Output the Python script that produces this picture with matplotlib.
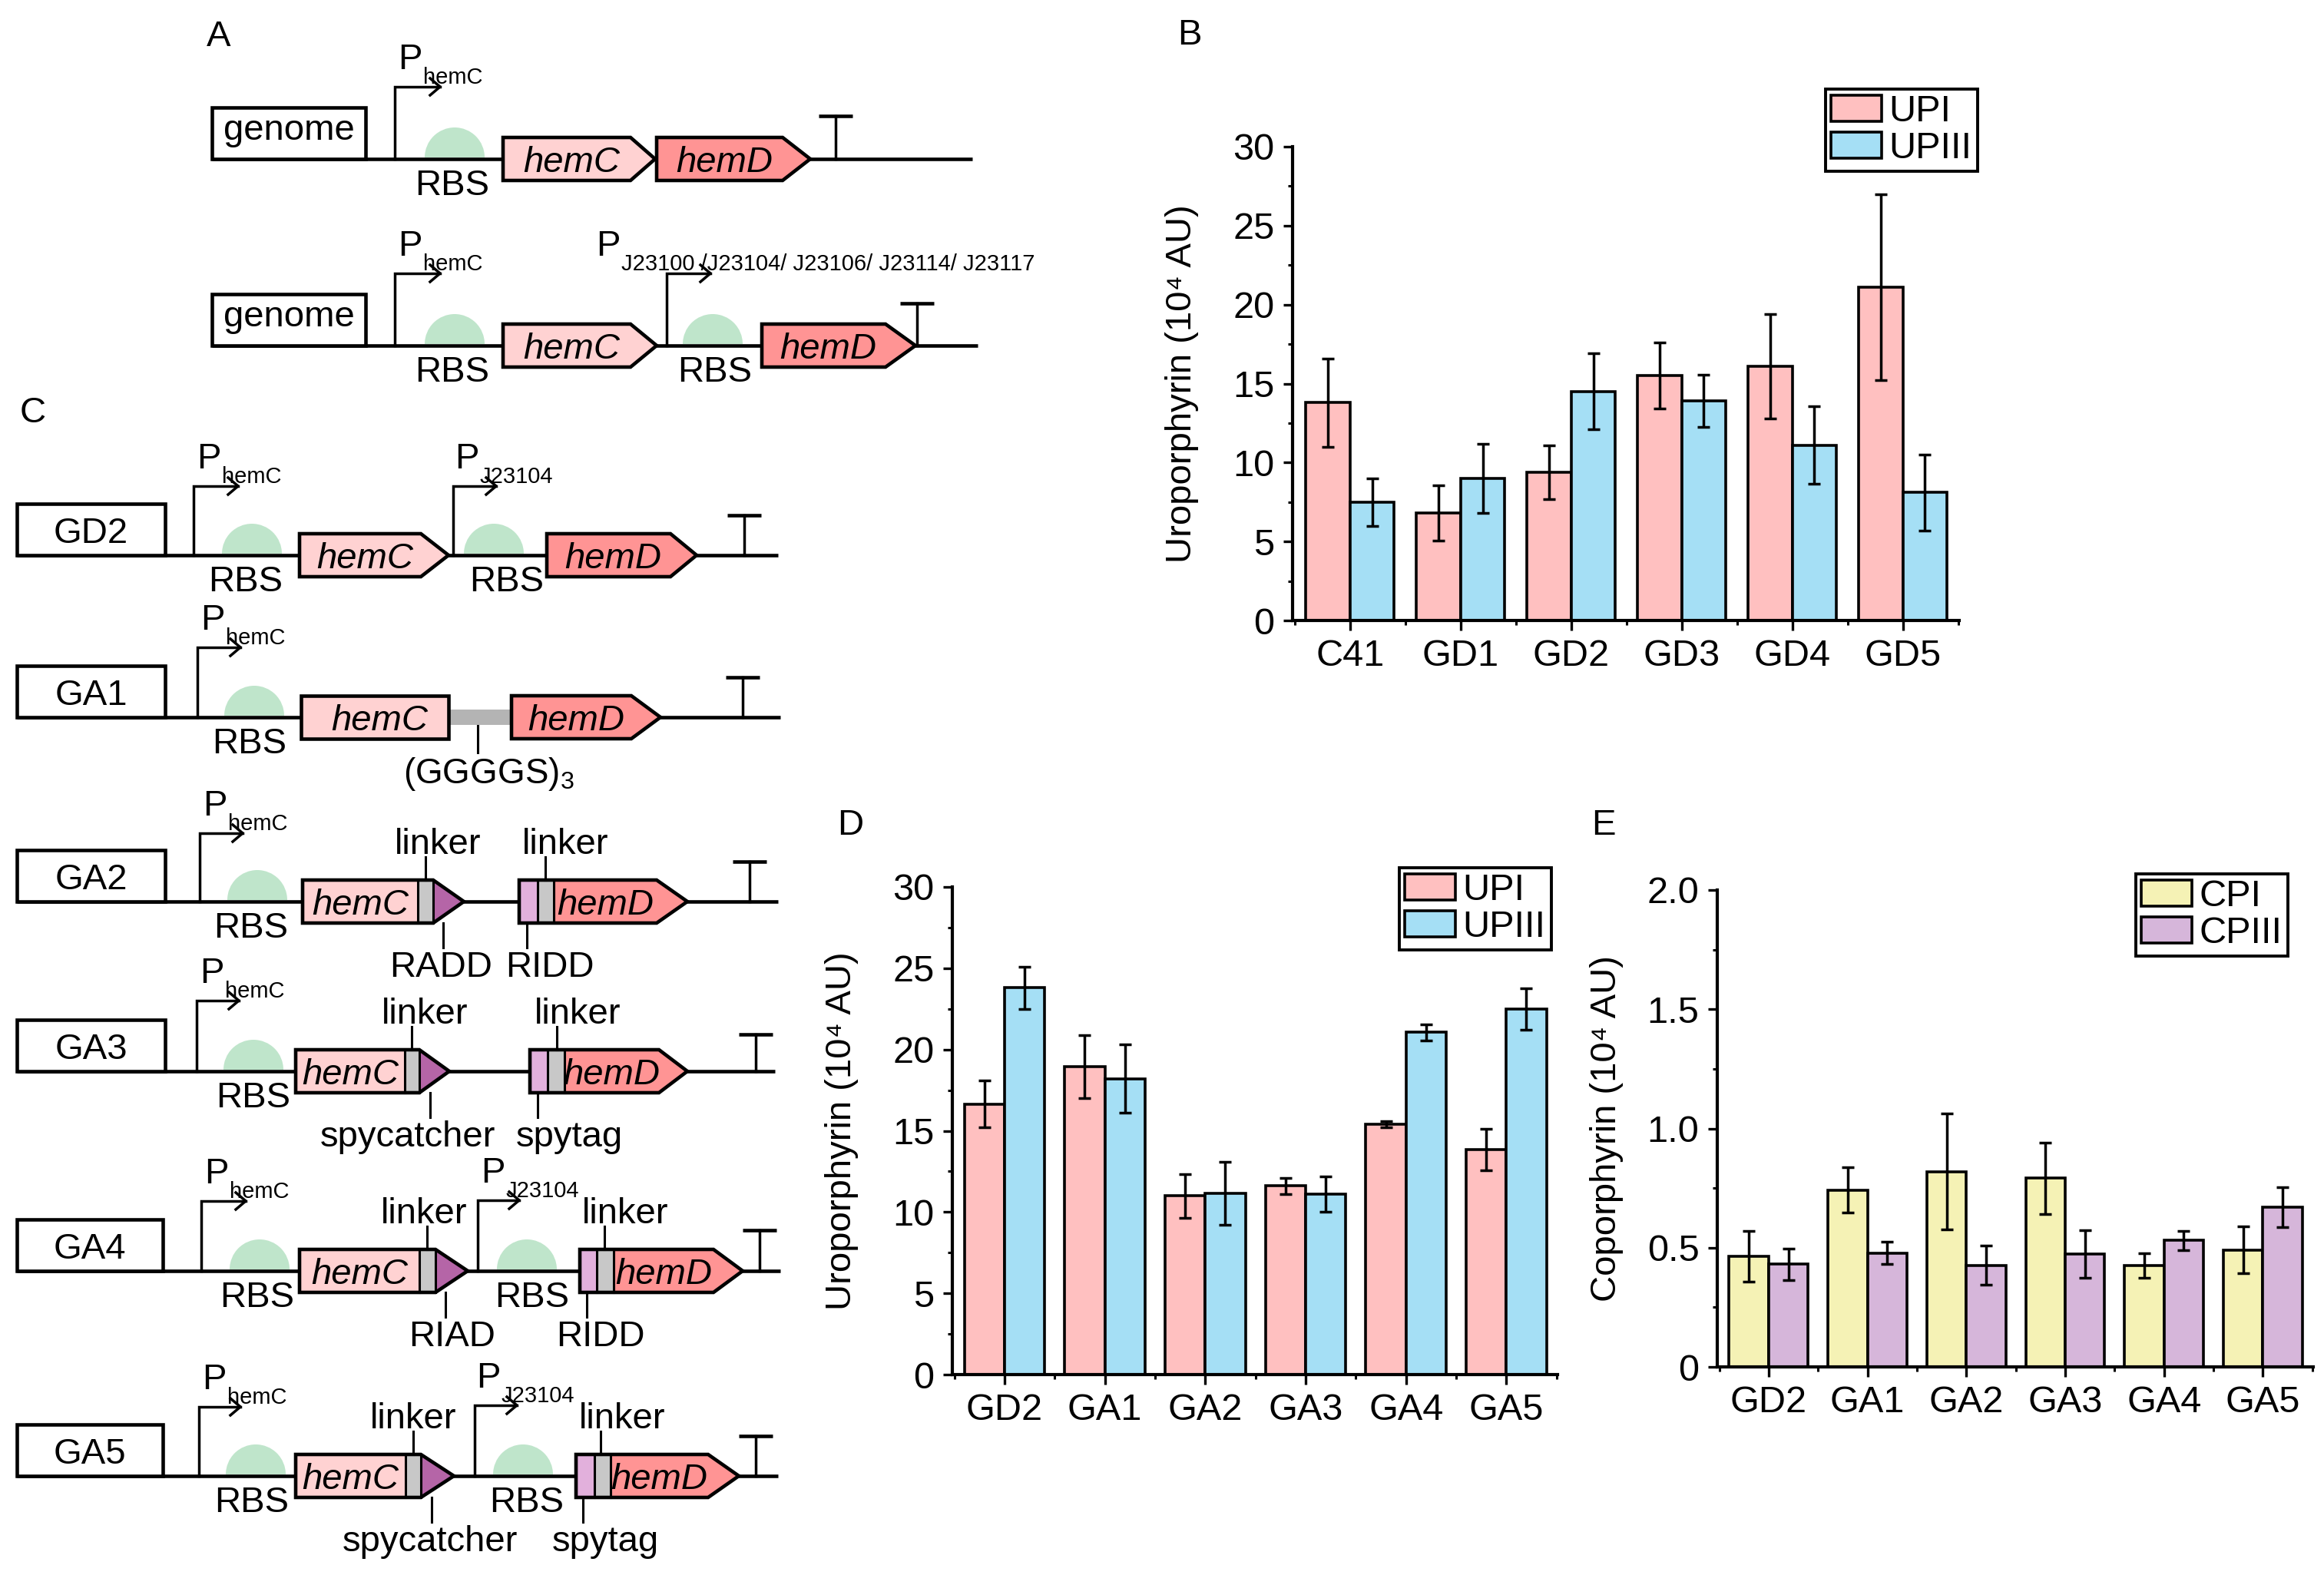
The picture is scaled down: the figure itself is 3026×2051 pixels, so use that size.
import matplotlib
matplotlib.use('Agg')
import matplotlib.pyplot as plt
import numpy as np
from matplotlib.patches import Polygon, Rectangle, Wedge
from matplotlib.ticker import FixedLocator, MultipleLocator, FuncFormatter

plt.rcParams['font.family'] = ['Liberation Sans', 'DejaVu Sans']
plt.rcParams['mathtext.fontset'] = 'custom'
plt.rcParams['mathtext.rm'] = 'Liberation Sans'
plt.rcParams['mathtext.it'] = 'Liberation Sans:italic'

# ---- data: panel B
strains_b = ['C41', 'GD1', 'GD2', 'GD3', 'GD4', 'GD5']
upi_b = [13.8, 6.8, 9.4, 15.5, 16.1, 21.1]
upi_b_err = [2.8, 1.75, 1.7, 2.1, 3.3, 5.9]
upiii_b = [7.5, 9.0, 14.5, 13.9, 11.1, 8.1]
upiii_b_err = [1.5, 2.2, 2.4, 1.65, 2.45, 2.4]

# ---- data: panels D and E
strains_de = ['GD2', 'GA1', 'GA2', 'GA3', 'GA4', 'GA5']
upi_d = [16.65, 18.95, 11.0, 11.6, 15.4, 13.85]
upi_d_err = [1.45, 1.95, 1.35, 0.5, 0.17, 1.28]
upiii_d = [23.8, 18.2, 11.15, 11.1, 21.05, 22.5]
upiii_d_err = [1.3, 2.1, 1.95, 1.1, 0.5, 1.28]

cpi_e = [0.463, 0.741, 0.819, 0.791, 0.426, 0.491]
cpi_e_err = [0.107, 0.095, 0.243, 0.15, 0.051, 0.098]
cpiii_e = [0.43, 0.478, 0.426, 0.474, 0.53, 0.67]
cpiii_e_err = [0.065, 0.047, 0.082, 0.1, 0.04, 0.085]

W, H = 3026, 2051
fig = plt.figure(figsize=(W / 100, H / 100), dpi=100)

# colours
PINK, BLUE = '#ffc0c0', '#a5dff5'
YEL, PURP = '#f5f2b5', '#d6b6da'
HEMC, HEMD = '#ffd2d2', '#ff9494'
RBSC, GRAY = '#bfe5cb', '#c8c8c8'
DOCK, DOCK2 = '#b565a7', '#e2b0dc'

FS = 34      # diagram text
FS_SUB = 21  # promoter subscripts
LW = 3.3

# ---------------- diagrams (pixel coordinates, y down) ----------------
ax0 = fig.add_axes([0, 0, 1, 1])
ax0.set_xlim(0, W)
ax0.set_ylim(H, 0)
ax0.axis('off')


def baseline(x0, x1, y):
    ax0.plot([x0, x1], [y, y], color='black', lw=LW, solid_capstyle='butt', zorder=2)


def name_box(x0, x1, yb, label, off=17):
    ax0.add_patch(Rectangle((x0, yb - 67), x1 - x0, 67, fc='white', ec='black', lw=LW, zorder=3))
    ax0.text((x0 + x1) / 2, yb - 33 + off, label, ha='center', va='baseline', fontsize=FS, zorder=4)


def promoter(x, yb, yt, xa, sub, px=None):
    ax0.plot([x, x, xa], [yb, yt, yt], color='black', lw=2.5, zorder=3,
             solid_joinstyle='miter')
    ax0.plot([xa - 13, xa, xa - 13], [yt - 11, yt, yt + 11], color='black', lw=2.5, zorder=3)
    px = x + 4 if px is None else px
    ax0.text(px, yt - 23, 'P', fontsize=34, ha='left', va='baseline')
    ax0.text(px + 33, yt - 4, sub, fontsize=FS_SUB, ha='left', va='baseline')


def rbs(cx, yb, tx=None):
    ax0.add_patch(Wedge((cx, yb - 2), 39, 180, 360, fc=RBSC, ec='none', zorder=1))
    tx = cx if tx is None else tx
    ax0.text(tx, yb + 47, 'RBS', fontsize=FS, ha='center', va='baseline')


def gene(x0, xp, x1, yc, color, label, h=56):
    pts = [(x0, yc - h / 2), (xp, yc - h / 2), (x1, yc), (xp, yc + h / 2), (x0, yc + h / 2)]
    ax0.add_patch(Polygon(pts, closed=True, fc=color, ec='black', lw=LW, zorder=3,
                          joinstyle='miter'))
    ax0.text((x0 + xp) / 2 + 6, yc + 17, label, fontsize=FS, style='italic',
             ha='center', va='baseline', zorder=5)


def fused(segs, xp, x1, yc, tipcolor, label, h=56):
    top, bot = yc - h / 2, yc + h / 2
    for a, b, col in segs:
        ax0.add_patch(Rectangle((a, top), b - a, h, fc=col, ec='none', zorder=3))
    ax0.add_patch(Polygon([(xp, top), (x1, yc), (xp, bot)], closed=True, fc=tipcolor,
                          ec='none', zorder=3))
    edges = [b for a, b, col in segs[:-1]]
    if tipcolor != segs[-1][2]:
        edges.append(xp)
    for e in edges:
        ax0.plot([e, e], [top, bot], color='black', lw=2.2, zorder=4)
    x0 = segs[0][0]
    pts = [(x0, top), (xp, top), (x1, yc), (xp, bot), (x0, bot)]
    ax0.add_patch(Polygon(pts, closed=True, fc='none', ec='black', lw=LW, zorder=4,
                          joinstyle='miter'))
    for a, b, col in segs:
        if col in (HEMC, HEMD):
            ax0.text((a + b) / 2, yc + 17, label, fontsize=FS, style='italic',
                     ha='center', va='baseline', zorder=5)


def terminator(x, yb, yt):
    ax0.plot([x, x], [yb, yt], color='black', lw=2.5, zorder=3)
    ax0.plot([x - 22, x + 22], [yt, yt], color='black', lw=LW, zorder=3,
             solid_capstyle='butt')


def call_up(x, yb, tx, text='linker'):
    ax0.plot([x, x], [yb - 28, yb - 58], color='black', lw=2.2, zorder=3)
    ax0.text(tx, yb - 62, text, fontsize=FS, ha='center', va='baseline')


def call_down(x, yb, tx, text):
    ax0.plot([x, x], [yb + 28, yb + 60], color='black', lw=2.2, zorder=3)
    ax0.text(tx, yb + 98, text, fontsize=FS, ha='center', va='baseline')


# panel A, row 1
yb = 207
baseline(276, 1266, yb)
name_box(276, 476, yb, 'genome', off=8)
promoter(514, yb, yb - 94, 573, 'hemC')
rbs(592, yb, 589)
gene(655, 821, 853, yb, HEMC, 'hemC')
gene(855, 1019, 1055, yb, HEMD, 'hemD')
terminator(1088, yb, yb - 56)

# panel A, row 2
yb = 450
baseline(276, 1273, yb)
name_box(276, 476, yb, 'genome', off=8)
promoter(514, yb, yb - 94, 573, 'hemC')
rbs(592, yb, 589)
gene(655, 821, 855, yb, HEMC, 'hemC')
promoter(868, yb, yb - 94, 925, 'J23100 /J23104/ J23106/ J23114/ J23117', px=776)
rbs(928, yb, 931)
gene(992, 1153, 1192, yb, HEMD, 'hemD')
terminator(1194, yb, yb - 55)

# panel C, GD2
yb = 723
baseline(22, 1013, yb)
name_box(22, 215, yb, 'GD2')
promoter(252, yb, yb - 90, 310, 'hemC')
rbs(328, yb, 320)
gene(390, 548, 584, yb, HEMC, 'hemC')
promoter(590, yb, yb - 90, 646, 'J23104', px=592)
rbs(643, yb, 660)
gene(712, 873, 907, yb, HEMD, 'hemD')
terminator(969, yb, yb - 52)

# GA1
yb = 934
baseline(22, 1016, yb)
name_box(22, 215, yb, 'GA1')
promoter(257, yb, yb - 91, 313, 'hemC')
rbs(331, yb, 325)
ax0.add_patch(Rectangle((584, yb - 10), 82, 20, fc='#b4b4b4', ec='none', zorder=2.5))
gene(392, 584, 584, yb, HEMC, 'hemC')
gene(666, 822, 860, yb, HEMD, 'hemD')
ax0.plot([622, 622], [yb + 11, yb + 46], color='black', lw=2.2)
ax0.text(636, yb + 86, '(GGGGS)$_3$', fontsize=33, ha='center', va='baseline')
terminator(967, yb, yb - 52)

# GA2
yb = 1174
baseline(22, 1013, yb)
name_box(22, 215, yb, 'GA2')
promoter(260, yb, yb - 89, 316, 'hemC')
rbs(335, yb, 327)
fused([(394, 544, HEMC), (544, 564, GRAY)], 564, 604, yb, DOCK, 'hemC')
call_up(554, yb, 570)
call_down(577, yb, 574, 'RADD')
fused([(676, 700, DOCK2), (700, 721, GRAY), (721, 855, HEMD)], 855, 895, yb, HEMD, 'hemD')
call_up(710, yb, 736)
call_down(686, yb, 716, 'RIDD')
terminator(976, yb, yb - 52)

# GA3
yb = 1395
baseline(22, 1009, yb)
name_box(22, 215, yb, 'GA3')
promoter(256, yb, yb - 92, 311, 'hemC')
rbs(330, yb, 330)
fused([(385, 527, HEMC), (527, 546, GRAY)], 546, 585, yb, DOCK, 'hemC')
call_up(536, yb, 553)
call_down(560, yb, 531, 'spycatcher')
fused([(690, 713, DOCK2), (713, 735, GRAY), (735, 858, HEMD)], 858, 895, yb, HEMD, 'hemD')
call_up(725, yb, 752)
call_down(700, yb, 741, 'spytag')
terminator(984, yb, yb - 48)

# GA4
yb = 1655
baseline(22, 1016, yb)
name_box(22, 212, yb, 'GA4')
promoter(262, yb, yb - 91, 320, 'hemC')
rbs(338, yb, 335)
fused([(390, 546, HEMC), (546, 567, GRAY)], 567, 609, yb, DOCK, 'hemC')
call_up(556, yb, 552)
call_down(580, yb, 589, 'RIAD')
promoter(622, yb, yb - 92, 676, 'J23104', px=626)
rbs(686, yb, 693)
fused([(755, 777, DOCK2), (777, 799, GRAY), (799, 929, HEMD)], 929, 967, yb, HEMD, 'hemD')
call_up(787, yb, 814)
call_down(764, yb, 782, 'RIDD')
terminator(989, yb, yb - 53)

# GA5
yb = 1922
baseline(22, 1013, yb)
name_box(22, 212, yb, 'GA5')
promoter(259, yb, yb - 90, 313, 'hemC')
rbs(333, yb, 328)
fused([(385, 528, HEMC), (528, 548, GRAY)], 548, 591, yb, DOCK, 'hemC')
call_up(538, yb, 538)
call_down(562, yb, 560, 'spycatcher')
promoter(618, yb, yb - 92, 673, 'J23104', px=620)
rbs(681, yb, 686)
fused([(750, 774, DOCK2), (774, 795, GRAY), (795, 922, HEMD)], 922, 962, yb, HEMD, 'hemD')
call_up(782, yb, 810)
call_down(759, yb, 788, 'spytag')
terminator(984, yb, yb - 52)

# panel letters
for letter, lx, ly in [('A', 269, 60), ('B', 1533, 58), ('C', 26, 550),
                       ('D', 1090, 1087), ('E', 2072, 1087)]:
    ax0.text(lx, ly, letter, fontsize=34, ha='left', va='baseline')


# ---------------- bar charts ----------------
def bar_panel(box, cats, s1, e1, s2, e2, c1, c2, names, ymax, ystep, ylabel,
              leg_xy, fmt=None):
    x0, y0, x1, y1 = box
    ax = fig.add_axes([x0 / W, 1 - y1 / H, (x1 - x0) / W, (y1 - y0) / H])
    x = np.arange(len(cats))
    w = 0.4
    kw = dict(edgecolor='black', linewidth=2.6, capsize=6,
              error_kw=dict(elinewidth=2.5, capthick=2.5, ecolor='black'))
    ax.bar(x - w / 2, s1, w, yerr=e1, color=c1, label=names[0], **kw)
    ax.bar(x + w / 2, s2, w, yerr=e2, color=c2, label=names[1], **kw)
    ax.set_xlim(-0.52, len(cats) - 0.49)
    ax.set_ylim(0, ymax)
    ax.set_xticks(x)
    ax.set_xticklabels(cats)
    ax.xaxis.set_minor_locator(FixedLocator(np.arange(-0.5, len(cats), 1.0)))
    ax.yaxis.set_major_locator(MultipleLocator(ystep))
    ax.yaxis.set_minor_locator(MultipleLocator(ystep / 2))
    if fmt is not None:
        ax.yaxis.set_major_formatter(FuncFormatter(fmt))
    for side in ('top', 'right'):
        ax.spines[side].set_visible(False)
    for side in ('left', 'bottom'):
        ax.spines[side].set_linewidth(3.0)
    ax.tick_params(which='major', direction='out', length=9, width=2.4,
                   labelsize=35, pad=8)
    ax.tick_params(which='minor', direction='out', length=4, width=2.2)
    ax.set_ylabel(ylabel, fontsize=34)
    ax.yaxis.set_label_coords(-122 / (x1 - x0), 0.5)
    leg = ax.legend(loc='upper left', bbox_to_anchor=(leg_xy[0] / W, 1 - leg_xy[1] / H),
                    bbox_transform=fig.transFigure, fontsize=35, frameon=True,
                    fancybox=False, edgecolor='black', framealpha=1,
                    handlelength=1.35, handleheight=0.7, handletextpad=0.2,
                    labelspacing=0.05, borderpad=0.15, borderaxespad=0)
    leg.get_frame().set_linewidth(2.8)
    return ax


bar_panel((1683, 191, 2551, 808), strains_b, upi_b, upi_b_err, upiii_b, upiii_b_err,
          PINK, BLUE, ['UPI', 'UPIII'], 30, 5, 'Uroporphyrin (10\u2074 AU)', (2377, 116))
bar_panel((1240, 1155, 2028, 1790), strains_de, upi_d, upi_d_err, upiii_d, upiii_d_err,
          PINK, BLUE, ['UPI', 'UPIII'], 30, 5, 'Uroporphyrin (10\u2074 AU)', (1822, 1130))
bar_panel((2236, 1159, 3012, 1780), strains_de, cpi_e, cpi_e_err, cpiii_e, cpiii_e_err,
          YEL, PURP, ['CPI', 'CPIII'], 2.0, 0.5, 'Coporphyrin (10\u2074 AU)', (2781, 1138),
          fmt=lambda v, p: '0' if v == 0 else '%.1f' % v)

fig.savefig('out.png', dpi=100)
